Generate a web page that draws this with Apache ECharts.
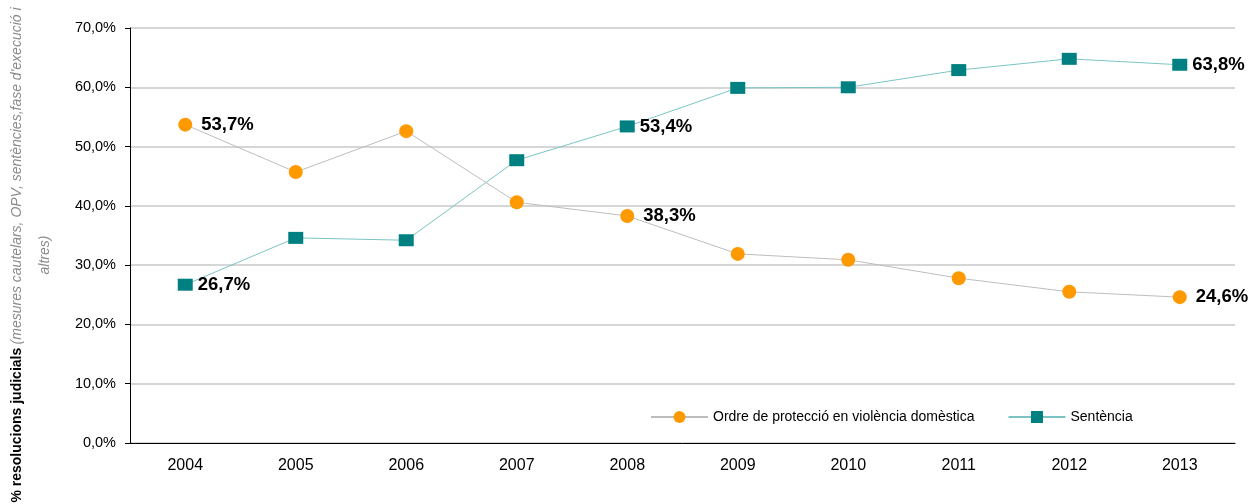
<!DOCTYPE html>
<html>
<head>
<meta charset="utf-8">
<script src="https://cdn.jsdelivr.net/npm/echarts@6/dist/echarts.min.js"></script>
<style>
  html, body { margin: 0; padding: 0; background: #fff; }
  #chart { width: 1260px; height: 504px; }
</style>
</head>
<body>
<div id="chart"></div>
<script>
const years = ["2004", "2005", "2006", "2007", "2008", "2009", "2010", "2011", "2012", "2013"];
const ordre = [53.7, 45.7, 52.6, 40.6, 38.3, 31.9, 30.9, 27.8, 25.5, 24.6];
const sentencia = [26.7, 34.6, 34.2, 47.7, 53.4, 59.9, 60.0, 62.9, 64.8, 63.8];
const labelledYears = ["2004", "2008", "2013"];

const fmt = (v) => v.toFixed(1).replace(".", ",") + "%";
const FONT = "Liberation Sans, Arial, sans-serif";

function withLabels(values) {
  return values.map((v, i) => ({
    value: v,
    label: { show: labelledYears.includes(years[i]) },
  }));
}

let myChart = echarts.init(document.getElementById("chart"));

var options = {
  animation: false,
  textStyle: { fontFamily: FONT },
  grid: { left: 130, right: 25, top: 28, bottom: 61 },
  legend: {
    left: 645,
    top: 405,
    itemWidth: 57,
    itemHeight: 15,
    itemGap: 33,
    textStyle: { fontSize: 14, color: "#000", fontFamily: FONT },
    data: ["Ordre de protecció en violència domèstica", "Sentència"],
  },
  xAxis: {
    type: "category",
    data: years,
    boundaryGap: true,
    axisLine: { lineStyle: { color: "#000", width: 1 } },
    axisTick: { alignWithLabel: false, length: 5, lineStyle: { color: "#000" } },
    axisLabel: { color: "#000", fontSize: 16, margin: 15, fontFamily: FONT },
  },
  yAxis: {
    type: "value",
    min: 0,
    max: 70,
    interval: 10,
    axisLine: { show: true, lineStyle: { color: "#000", width: 1 } },
    axisTick: { show: true, length: 5, lineStyle: { color: "#000" } },
    axisLabel: {
      color: "#000",
      fontSize: 14.5,
      margin: 14,
      fontFamily: FONT,
      formatter: (v) => v.toFixed(1).replace(".", ",") + "%",
    },
    splitLine: { lineStyle: { color: "#c8c8c8", width: 1.5 } },
  },
  graphic: [
    {
      type: "text",
      x: 31,
      y: 255,
      rotation: Math.PI / 2,
      style: {
        text: "{b|% resolucions judicials} {i|(mesures cautelars, OPV, sentències,fase d'execució i}\n{i|altres)}",
        align: "center",
        verticalAlign: "middle",
        lineHeight: 28,
        rich: {
          b: { fontSize: 14, fontWeight: "bold", fill: "#000", fontFamily: FONT, lineHeight: 28 },
          i: { fontSize: 14, fontStyle: "italic", fill: "#8c8c8c", fontFamily: FONT, lineHeight: 28 },
        },
      },
    },
  ],
  series: [
    {
      name: "Ordre de protecció en violència domèstica",
      type: "line",
      data: withLabels(ordre),
      symbol: "circle",
      symbolSize: 14,
      itemStyle: { color: "#ff9900" },
      lineStyle: { color: "#bdbdbd", width: 1 },
      label: {
        position: "right",
        distance: 9,
        fontSize: 18.5,
        fontWeight: "bold",
        color: "#000",
        fontFamily: FONT,
        formatter: (p) => fmt(p.value),
      },
    },
    {
      name: "Sentència",
      type: "line",
      data: withLabels(sentencia),
      symbol: "rect",
      symbolSize: [15, 12],
      itemStyle: { color: "#008080" },
      lineStyle: { color: "#7cc4c4", width: 1 },
      label: {
        position: "right",
        distance: 5,
        fontSize: 18.5,
        fontWeight: "bold",
        color: "#000",
        fontFamily: FONT,
        formatter: (p) => fmt(p.value),
      },
    },
  ],
};

myChart.setOption(options);
</script>
</body>
</html>
